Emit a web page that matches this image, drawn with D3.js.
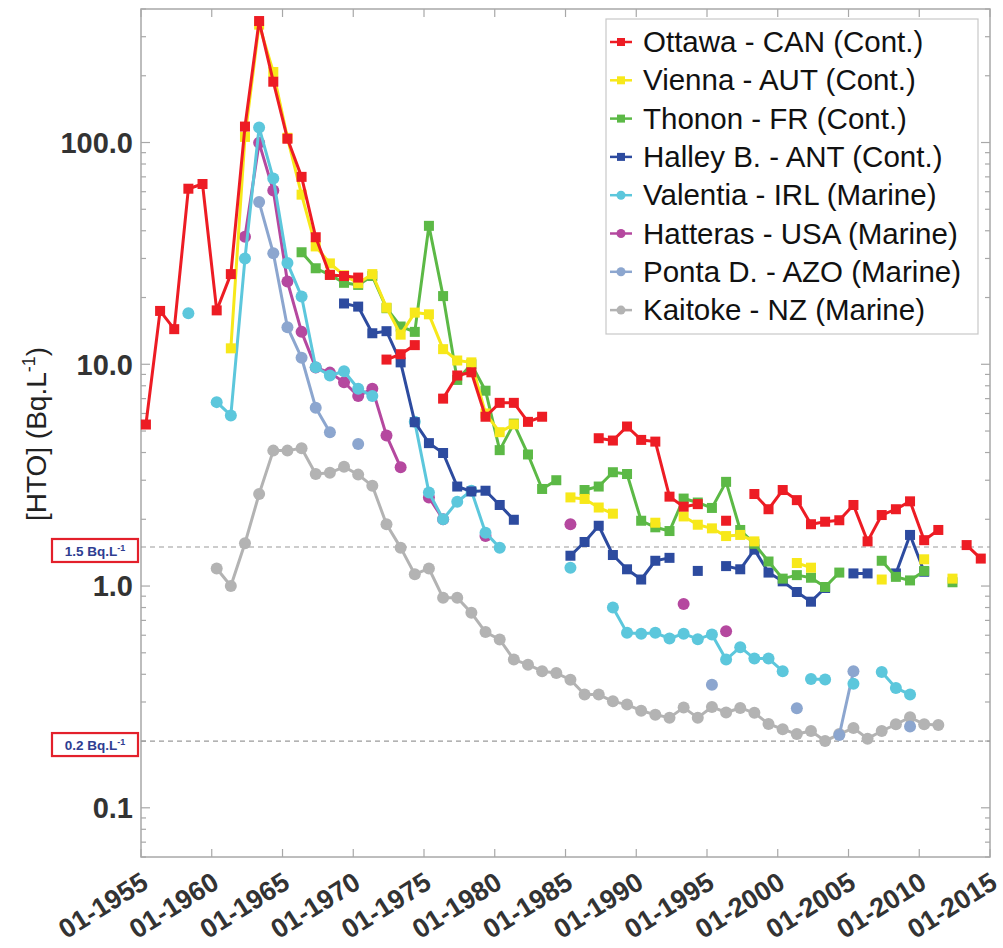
<!DOCTYPE html>
<html><head><meta charset="utf-8">
<script src="https://cdn.jsdelivr.net/npm/d3@7"></script>
<style>body{margin:0;background:#fff;}svg{display:block;font-family:"Liberation Sans",Arial,sans-serif;}</style>
</head><body>
<svg id="c" width="1003" height="948"></svg>
<script>
// ---------- DATA (annual values, Bq/L; null = no data) ----------
const seriesNames = ["Ottawa - CAN (Cont.)","Vienna - AUT (Cont.)","Thonon - FR (Cont.)","Halley B. - ANT (Cont.)",
  "Valentia - IRL (Marine)","Hatteras - USA (Marine)","Ponta D. - AZO (Marine)","Kaitoke - NZ (Marine)"];
const seriesColors = ["#ed1c24","#f7e81a","#5cb946","#2d4b9f","#5cc7dc","#b5489f","#8ca6cf","#b3b3b3"];
const seriesMarkers = ["square","square","square","square","circle","circle","circle","circle"];
const seriesStart = [1955,1961,1966,1969,1958,1962,1963,1960];

const ottawa = [5.35,17.4,14.4,61.9,65,17.5,25.5,118,353,188,104,70,37.4,25.3,25,24.6,null,10.5,11.1,12.2,
  null,7.0,8.9,9.2,5.8,6.7,6.7,5.5,5.8,null,null,null,4.64,4.53,5.24,4.56,4.48,2.53,2.28,2.34,
  null,1.97,null,2.60,2.22,2.71,2.44,1.90,1.95,1.98,2.32,1.59,2.09,2.22,2.41,1.61,1.79,null,1.53,1.33];
const vienna = [11.8,106,340,208,105,58.2,34,28.5,25.2,23.2,25.5,18.0,13.6,17.1,16.8,11.7,10.4,10.2,6.0,4.94,
  5.36,null,null,null,2.51,2.47,2.26,2.12,null,null,1.93,null,2.06,1.89,1.82,1.68,1.70,1.59,null,null,
  1.27,1.21,null,null,null,null,1.07,null,null,1.32,null,1.08];
const thonon = [32,27.1,25.3,23.3,22.8,25,17.9,14.8,14.0,42.1,20.3,8.5,10.0,7.6,4.1,5.4,3.92,2.74,3.0,null,
  2.71,2.81,3.26,3.20,1.97,1.84,1.77,2.48,2.38,2.25,2.95,1.79,1.55,1.29,1.08,1.12,1.09,0.99,1.15,null,
  null,1.30,1.10,1.06,1.17,null,1.04];
const halley = [18.8,18.2,13.8,14.1,10.2,5.48,4.41,3.98,2.81,2.67,2.69,2.32,1.99,null,null,null,1.37,1.58,1.87,1.38,
  1.19,1.07,1.30,1.34,null,1.17,null,1.23,1.19,1.46,1.15,1.05,0.94,0.85,0.98,null,1.14,1.14,null,1.14,
  1.70,1.16];
const valentia = [17.0,null,6.75,5.88,30,117,68.8,28.6,20.2,9.7,8.9,9.3,7.76,7.19,null,null,5.5,2.64,2.0,2.4,
  2.69,1.74,1.49,null,null,null,null,1.21,null,null,0.80,0.615,0.61,0.615,0.58,0.61,0.576,0.605,0.466,0.53,
  0.471,0.471,0.413,null,0.381,0.379,null,0.363,null,0.41,0.347,0.324];
const hatteras = [37.6,99.7,60.7,23.6,14.0,9.66,9.17,8.3,7.19,7.76,4.77,3.43,null,2.51,2.0,null,null,1.68,null,null,
  null,null,null,1.90,null,null,null,null,null,null,null,0.83,null,null,0.626];
const ponta = [53.9,31.7,14.7,10.7,6.37,4.94,null,4.37,null,null,null,null,null,null,null,null,null,null,null,null,
  null,null,null,null,null,null,null,null,null,null,null,null,0.359,null,null,null,null,null,0.281,null,
  null,0.213,0.413,null,null,null,0.2325];
const kaitoke = [1.20,1.0,1.56,2.60,4.08,4.08,4.18,3.20,3.24,3.45,3.18,2.83,1.90,1.49,1.13,1.20,0.885,0.885,0.757,0.62,
  0.574,0.466,0.442,0.413,0.405,0.378,0.324,0.324,0.302,0.292,0.274,0.263,0.255,0.283,0.255,0.285,0.269,0.282,0.268,0.239,
  0.226,0.215,0.222,0.200,0.215,0.229,0.205,0.222,0.238,0.256,0.238,0.236];
const seriesValues = [ottawa,vienna,thonon,halley,valentia,hatteras,ponta,kaitoke];

const yTickValues = [0.1,1,10,100];
const yTickLabels = ["0.1","1.0","10.0","100.0"];
const thresholds = [1.5,0.2];
const thresholdLabels = ["1.5 Bq.L","0.2 Bq.L"];
const xDomainYears = [1955,2015];
const sampleMonth = 4, sampleDay = 8; // annual samples plotted in early May

// ---------- CHART ----------
const svg = d3.select("#c");
const L=141, R=990, T=9, B=857;
const x = d3.scaleTime().domain(xDomainYears.map(y=>new Date(y,0,1))).range([L,R]);
const y = d3.scaleLog().domain([0.06,400]).range([B,T]);
const date = yr => new Date(yr, sampleMonth, sampleDay);

// frame
svg.append("rect").attr("x",L).attr("y",T).attr("width",R-L).attr("height",B-T)
  .attr("fill","none").attr("stroke","#a8a8a8").attr("stroke-width",1.5);

// x ticks (top & bottom, inward)
const xTicks = x.ticks(d3.timeYear.every(5));
const fmt = d3.timeFormat("%m-%Y");
const gx = svg.append("g");
xTicks.forEach(t=>{
  const px = x(t);
  gx.append("line").attr("x1",px).attr("x2",px).attr("y1",B).attr("y2",B-8).attr("stroke","#a8a8a8").attr("stroke-width",1.2);
  gx.append("line").attr("x1",px).attr("x2",px).attr("y1",T).attr("y2",T+8).attr("stroke","#a8a8a8").attr("stroke-width",1.2);
  gx.append("text").attr("transform",`translate(${px+9},${B+30}) rotate(-32)`)
    .attr("text-anchor","end").attr("font-size",27).attr("font-weight","bold").attr("fill","#333")
    .text(fmt(t));
});

// y ticks major/minor, left and right
const gy = svg.append("g");
const minor = [];
for (let e=-2;e<=2;e++) for (let k=1;k<=9;k++){ const v=k*Math.pow(10,e); if(v>=0.06&&v<=400) minor.push(v); }
minor.forEach(v=>{
  const major = yTickValues.includes(v);
  const len = major?9:5;
  gy.append("line").attr("x1",L).attr("x2",L+len).attr("y1",y(v)).attr("y2",y(v)).attr("stroke","#a8a8a8").attr("stroke-width",1.2);
  gy.append("line").attr("x1",R).attr("x2",R-len).attr("y1",y(v)).attr("y2",y(v)).attr("stroke","#a8a8a8").attr("stroke-width",1.2);
});
yTickValues.forEach((v,i)=>{
  gy.append("text").attr("x",L-8).attr("y",y(v)).attr("dy","0.36em").attr("text-anchor","end")
    .attr("font-size",29).attr("font-weight","bold").attr("fill","#333").text(yTickLabels[i]);
});

// y axis title
const yt = svg.append("text").attr("transform",`translate(46,434) rotate(-90)`).attr("text-anchor","middle")
  .attr("font-size",28).attr("fill","#222");
yt.append("tspan").text("[HTO] (Bq.L");
yt.append("tspan").attr("dy",-11).attr("font-size",18).text("-1");
yt.append("tspan").attr("dy",11).text(")");

// threshold lines + labels
thresholds.forEach((v,i)=>{
  svg.append("line").attr("x1",L).attr("x2",R).attr("y1",y(v)).attr("y2",y(v))
    .attr("stroke","#9a9a9a").attr("stroke-width",1.2).attr("stroke-dasharray","5,4");
  svg.append("rect").attr("x",52).attr("y",y(v)-8).attr("width",86).attr("height",23)
    .attr("fill","#fff").attr("stroke","#e3202b").attr("stroke-width",2.2);
  const t = svg.append("text").attr("x",95).attr("y",y(v)+9).attr("text-anchor","middle")
    .attr("font-size",13.5).attr("font-weight","bold").attr("fill","#2e3d91");
  t.append("tspan").text(thresholdLabels[i]);
  t.append("tspan").attr("dy",-5).attr("font-size",9).text("-1");
});

// series (draw last legend item first so Ottawa is on top)
const plot = svg.append("g");
const order = d3.range(seriesNames.length).reverse();
order.forEach(si=>{
  const pts = seriesValues[si].map((v,j)=>({d:date(seriesStart[si]+j), v}));
  const col = seriesColors[si];
  const line = d3.line().defined(p=>p.v!=null).x(p=>x(p.d)).y(p=>y(p.v));
  plot.append("path").attr("d",line(pts)).attr("fill","none").attr("stroke",col)
    .attr("stroke-width",3).attr("stroke-linejoin","round");
  const valid = pts.filter(p=>p.v!=null);
  if (seriesMarkers[si]==="square"){
    plot.selectAll(null).data(valid).enter().append("rect")
      .attr("x",p=>x(p.d)-5).attr("y",p=>y(p.v)-5).attr("width",10).attr("height",10).attr("fill",col);
  } else {
    plot.selectAll(null).data(valid).enter().append("circle")
      .attr("cx",p=>x(p.d)).attr("cy",p=>y(p.v)).attr("r",6).attr("fill",col);
  }
});

// legend
const lg = svg.append("g");
lg.append("rect").attr("x",606).attr("y",19).attr("width",372).attr("height",315)
  .attr("fill","#fff").attr("stroke","#c8c8c8").attr("stroke-width",1.2);
seriesNames.forEach((n,i)=>{
  const cy = 42 + i*38.3;
  lg.append("line").attr("x1",610).attr("x2",632).attr("y1",cy).attr("y2",cy).attr("stroke",seriesColors[i]).attr("stroke-width",2.5);
  if (seriesMarkers[i]==="square")
    lg.append("rect").attr("x",617).attr("y",cy-4).attr("width",8).attr("height",8).attr("fill",seriesColors[i]);
  else
    lg.append("circle").attr("cx",621).attr("cy",cy).attr("r",4.5).attr("fill",seriesColors[i]);
  lg.append("text").attr("x",643).attr("y",cy+10).attr("font-size",29.5).attr("fill","#111").text(n);
});
</script>
</body></html>
